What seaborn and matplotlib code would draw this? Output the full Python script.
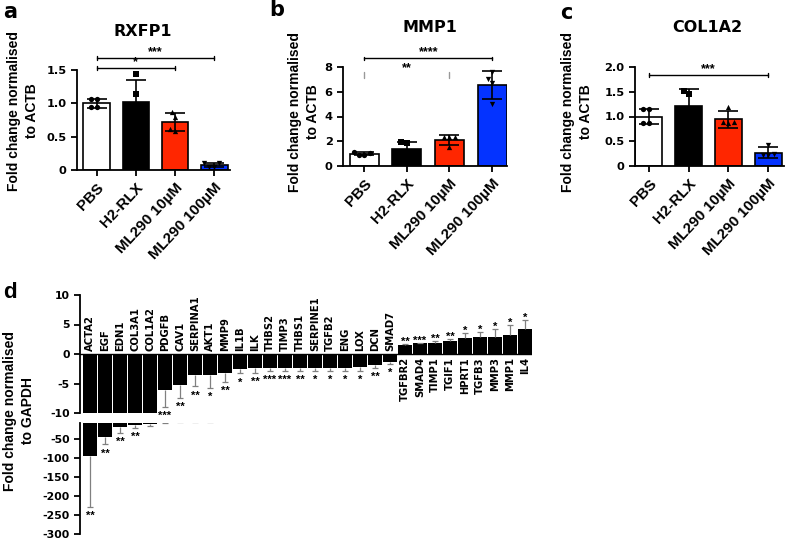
import numpy as np
import pandas as pd
import matplotlib
matplotlib.use('Agg')
import matplotlib.pyplot as plt
import seaborn as sns

# --- panels a-c: qPCR, fold change normalised to ACTB ---
groups = ['PBS', 'H2-RLX', 'ML290 10µM', 'ML290 100µM']
bar_colors = ['white', 'black', '#FF2600', '#0433FF']
markers = ['o', 's', '^', 'v']

rxfp1_mean = [1.0, 1.02, 0.72, 0.07]
rxfp1_sd = [0.07, 0.33, 0.14, 0.03]
rxfp1_pts = [[1.07, 1.07, 0.94, 0.94], [1.44, 1.14, 0.80, 0.70],
             [0.87, 0.80, 0.62, 0.58], [0.10, 0.10, 0.05, 0.05]]

mmp1_mean = [1.0, 1.4, 2.12, 6.55]
mmp1_sd = [0.15, 0.5, 0.4, 1.1]
mmp1_pts = [[1.1, 1.05, 0.92, 0.92], [1.9, 1.85, 1.0, 0.85],
            [2.35, 2.35, 2.35, 1.55], [7.6, 7.0, 6.7, 5.0]]

col1a2_mean = [1.0, 1.21, 0.94, 0.27]
col1a2_sd = [0.15, 0.34, 0.17, 0.11]
col1a2_pts = [[1.15, 1.15, 0.87, 0.87], [1.52, 1.45, 1.0, 0.87],
              [1.19, 0.88, 0.88, 0.86], [0.42, 0.24, 0.22, 0.22]]

# --- panel d: array, fold change normalised to GAPDH ---
genes = ['ACTA2', 'EGF', 'EDN1', 'COL3A1', 'COL1A2', 'PDGFB', 'CAV1', 'SERPINA1',
         'AKT1', 'MMP9', 'IL1B', 'ILK', 'THBS2', 'TIMP3', 'THBS1', 'SERPINE1',
         'TGFB2', 'ENG', 'LOX', 'DCN', 'SMAD7', 'TGFBR2', 'SMAD4', 'TIMP1',
         'TGIF1', 'HPRT1', 'TGFB3', 'MMP3', 'MMP1', 'IL4']
fold = [-95, -45, -20, -14, -12, -6.1, -5.3, -3.6, -3.5, -3.3, -2.6, -2.4, -2.3,
        -2.3, -2.3, -2.3, -2.3, -2.3, -2.2, -1.9, -1.4, 1.5, 1.8, 1.8, 2.2, 2.7,
        2.8, 2.9, 3.3, 4.2]
fold_sd = [135, 20, 15, 8, 4, 2.8, 2.2, 1.9, 2.3, 1.4, 0.7, 0.8, 0.5, 0.5, 0.5,
           0.5, 0.5, 0.5, 0.7, 0.4, 0.3, 0.2, 0.1, 0.4, 0.3, 0.9, 1.0, 1.3, 1.6, 1.6]
stars = ['**', '**', '**', '**', '', '***', '**', '**', '*', '**', '*', '**', '***',
         '***', '**', '*', '*', '*', '*', '**', '*', '**', '***', '**', '**', '*',
         '*', '*', '*', '*']

sns.set_theme(style='ticks')
plt.rcParams['font.family'] = ['Liberation Sans', 'DejaVu Sans']
plt.rcParams['font.weight'] = 'bold'
plt.rcParams['text.color'] = 'black'
plt.rcParams['axes.labelcolor'] = 'black'
plt.rcParams['axes.linewidth'] = 1.3
plt.rcParams['xtick.major.width'] = 1.3
plt.rcParams['ytick.major.width'] = 1.3
plt.rcParams['xtick.major.size'] = 4
plt.rcParams['ytick.major.size'] = 4
plt.rcParams['xtick.color'] = 'black'
plt.rcParams['ytick.color'] = 'black'
plt.rcParams['axes.edgecolor'] = 'black'

wide = ['DejaVu Sans']

W, H = 787, 541
fig = plt.figure(figsize=(W / 100, H / 100), dpi=100)


def box(l, t, r, b):
    # pixel box -> figure coords
    return [l / W, 1 - b / H, (r - l) / W, (b - t) / H]


def bracket(ax, x1, x2, y, txt, h, color='black'):
    ax.plot([x1, x2], [y, y], color=color, lw=1, clip_on=False)
    for x in (x1, x2):
        ax.plot([x, x], [y - h, y + h], color=color, lw=1, clip_on=False)
    ax.text((x1 + x2) / 2, y, txt, ha='center', va='bottom', fontsize=9, fontweight='bold')


def small_panel(rect, means, sds, pts, yticks, ylabels, xlim, ylim):
    ax = fig.add_axes(rect)
    sns.barplot(x=groups, y=means, hue=groups, palette=bar_colors, legend=False,
                saturation=1, edgecolor='black', linewidth=1.2, width=0.68, ax=ax)
    ax.errorbar(range(4), means, yerr=sds, fmt='none', ecolor='black',
                elinewidth=1.2, capsize=7, capthick=1.2, zorder=3)
    for g, m, vals in zip(groups, markers, pts):
        sns.swarmplot(x=[g] * len(vals), y=vals, order=groups, marker=m,
                      color='black', size=3.8, ax=ax, zorder=4)
    ax.set_xlim(*xlim)
    ax.set_ylim(*ylim)
    ax.set_yticks(yticks)
    ax.set_yticklabels(ylabels, fontsize=8.2, fontweight='bold', family=wide)
    ax.set_xticks(range(4))
    ax.set_xticklabels(groups, rotation=47, ha='right', rotation_mode='anchor',
                       fontsize=11, fontweight='bold')
    ax.set_xlabel('')
    ax.set_ylabel('')
    sns.despine(ax=ax)
    return ax


def panel_text(x, y, txt, size, **kw):
    fig.text(x / W, 1 - y / H, txt, ha='center', va='center', fontsize=size,
             fontweight='bold', **kw)


ylab = 'Fold change normalised\nto ACTB'

# a
ax_a = small_panel(box(77, 70, 230, 170), rxfp1_mean, rxfp1_sd, rxfp1_pts,
                   [0, 0.5, 1.0, 1.5], ['0', '0.5', '1.0', '1.5'], (-0.5, 3.4), (0, 1.5))
bracket(ax_a, 0, 2, 1.53, '*', 0.025)
bracket(ax_a, 0, 3, 1.68, '***', 0.025)
panel_text(23, 111, ylab, 10, rotation=90, linespacing=1.45, multialignment='center')
panel_text(143, 32, 'RXFP1', 11.5, family=wide)
panel_text(10, 12, 'a', 15, family=wide)

# b
ax_b = small_panel(box(343, 67, 507, 166), mmp1_mean, mmp1_sd, mmp1_pts,
                   [0, 2, 4, 6, 8], ['0', '2', '4', '6', '8'], (-0.5, 3.35), (0, 8))
bracket(ax_b, 0, 3, 8.7, '****', 0.12)
for x in (0, 2):
    ax_b.plot([x, x], [7.1, 7.6], color='#999999', lw=1, clip_on=False)
ax_b.text(1, 7.45, '**', ha='center', va='bottom', fontsize=9, fontweight='bold')
panel_text(304, 112, ylab, 10, rotation=90, linespacing=1.45, multialignment='center')
panel_text(430, 27, 'MMP1', 11.5, family=wide)
panel_text(277, 10, 'b', 15, family=wide)

# c
ax_c = small_panel(box(635, 67, 784, 166), col1a2_mean, col1a2_sd, col1a2_pts,
                   [0, 0.5, 1.0, 1.5, 2.0], ['0', '0.5', '1.0', '1.5', '2.0'],
                   (-0.35, 3.4), (0, 2.0))
bracket(ax_c, 0, 3, 1.84, '***', 0.035)
panel_text(577, 112, ylab, 10, rotation=90, linespacing=1.45, multialignment='center')
panel_text(707, 28, 'COL1A2', 11.5, family=wide)
panel_text(566, 13, 'c', 15, family=wide)

# d - broken axis, two stacked axes
ax_up = fig.add_axes(box(80, 295, 532, 413))
ax_lo = fig.add_axes(box(80, 423, 532, 534))
ends = [v - s if v < 0 else v + s for v, s in zip(fold, fold_sd)]
xs = np.arange(len(genes))

for ax in (ax_up, ax_lo):
    sns.barplot(x=genes, y=fold, order=genes, color='black', width=0.88,
                saturation=1, edgecolor='none', ax=ax)
    ax.vlines(xs, fold, ends, color='#808080', lw=0.9, zorder=3)
    ax.hlines(ends, xs - 0.2, xs + 0.2, color='#808080', lw=0.9, zorder=3)
    ax.set_xlim(-0.67, 29.47)
    ax.tick_params(axis='x', bottom=False, labelbottom=False)
    ax.set_xlabel('')
    ax.set_ylabel('')
    sns.despine(ax=ax, bottom=True)

ax_up.set_ylim(-10, 10)
ax_up.set_yticks([10, 5, 0, -5, -10])
ax_up.set_yticklabels(['10', '5', '0', '-5', '-10'], fontsize=7.8, fontweight='bold',
                      family=wide)
ax_up.axhline(0, color='black', lw=1.0, zorder=2)
ax_lo.set_ylim(-300, -9)
ax_lo.set_yticks([-50, -100, -150, -200, -250, -300])
ax_lo.set_yticklabels(['-50', '-100', '-150', '-200', '-250', '-300'],
                      fontsize=7.8, fontweight='bold', family=wide)

gene_font = dict(fontsize=8.0, fontweight='bold', family=['DejaVu Sans'], stretch='condensed')
for i, g in enumerate(genes):
    if fold[i] < 0:
        ax_up.annotate(g, (i, 0), xytext=(0, 3), textcoords='offset pixels', rotation=90,
                       ha='center', va='bottom', **gene_font)
    else:
        ax_up.annotate(g, (i, 0), xytext=(0, -3), textcoords='offset pixels', rotation=90,
                       ha='center', va='top', **gene_font)
    if not stars[i]:
        continue
    target = ax_lo if ends[i] < -10 else ax_up
    if fold[i] < 0:
        target.annotate(stars[i], (i, ends[i]), xytext=(0, -12), textcoords='offset pixels',
                        ha='center', va='baseline', fontsize=8, fontweight='bold')
    else:
        target.annotate(stars[i], (i, ends[i]), xytext=(0, -1), textcoords='offset pixels',
                        ha='center', va='baseline', fontsize=8, fontweight='bold')

panel_text(19, 411, 'Fold change normalised\nto GAPDH', 10, rotation=90,
           linespacing=1.45, multialignment='center')
panel_text(10, 292, 'd', 16)

fig.savefig('out.png', dpi=100)
